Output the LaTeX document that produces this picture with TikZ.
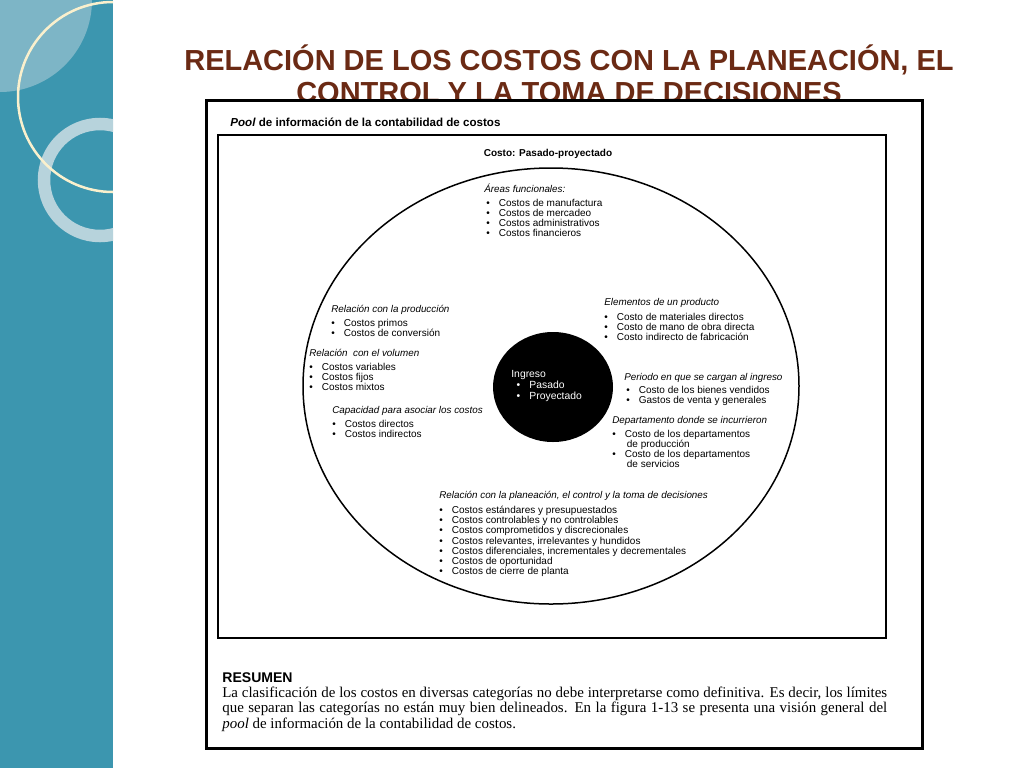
\documentclass[tikz,border=0pt]{standalone}
\usepackage{fontspec}
\setmainfont{Liberation Sans}
\newfontfamily\resfont{Liberation Serif}
\usetikzlibrary{positioning}
\definecolor{teal1}{RGB}{60,150,175}
\definecolor{teal2}{RGB}{125,181,198}
\definecolor{ring1}{RGB}{183,211,220}
\definecolor{cream}{RGB}{250,240,205}
\definecolor{titlered}{RGB}{107,42,20}
\newcommand{\bl}[1]{\textbullet\hspace{0.9em}#1\\}
\tikzset{
  head/.style={anchor=north west, inner sep=0pt, font=\fontsize{5.6}{6}\selectfont\itshape},
  items/.style={anchor=north west, inner sep=0pt, align=left, font=\fontsize{5.7}{5.75}\selectfont}
}
\begin{document}
\begin{tikzpicture}[x=0.02cm,y=-0.02cm]
  \useasboundingbox (0,0) rectangle (1024,768);
  \fill[white] (0,0) rectangle (1024,768);
  % side bar
  \begin{scope}
    \clip (0,0) rectangle (113,768);
    \fill[teal1] (0,0) rectangle (113,768);
    \fill[teal2] (0,0) circle (92);
    \draw[ring1, line width=0.25cm] (100,180) circle (56);
    \draw[cream, line width=0.05cm] (113,97) circle (95);
  \end{scope}
  % title
  \node[font=\fontsize{16.5}{18.5}\selectfont\bfseries, text=titlered, align=center] (title) at (569,74)
    {RELACIÓN DE LOS COSTOS CON LA PLANEACIÓN, EL\\ CONTROL Y LA TOMA DE DECISIONES};
  % frames
  \fill[white] (206,100) rectangle (922,748);
  \draw[line width=0.06cm] (206,100) rectangle (922,748);
  \node[anchor=west, inner sep=0pt, font=\fontsize{6.6}{7}\selectfont\bfseries] (pool) at (230,122)
    {\textit{Pool} de información de la contabilidad de costos};
  \draw[line width=0.035cm] (218,135) rectangle (886,638);
  \node[inner sep=0pt, font=\fontsize{5.7}{6}\selectfont\bfseries] (costo) at (548,154) {Costo: Pasado-proyectado};
  \draw[line width=0.03cm] (551,386) ellipse (248 and 218);
  \fill (553,387) ellipse (60 and 55);
  % texts
  \node[head] (areas) at (484,184) {Áreas funcionales:};
  \node[items] (areasI) at (486,199) {\bl{Costos de manufactura}\bl{Costos de mercadeo}\bl{Costos administrativos}\bl{Costos financieros}};
  \node[head] (prod) at (331,305) {Relación con la producción};
  \node[items] (prodI) at (331,319) {\bl{Costos primos}\bl{Costos de conversión}};
  \node[head] (vol) at (309,349) {Relación\ \ con el volumen};
  \node[items] (volI) at (309,363) {\bl{Costos variables}\bl{Costos fijos}\bl{Costos mixtos}};
  \node[head] (cap) at (332,406) {Capacidad para asociar los costos};
  \node[items] (capI) at (332,420) {\bl{Costos directos}\bl{Costos indirectos}};
  \node[head] (elem) at (604,298) {Elementos de un producto};
  \node[items] (elemI) at (604,313) {\bl{Costo de materiales directos}\bl{Costo de mano de obra directa}\bl{Costo indirecto de fabricación}};
  \node[head] (per) at (624,373) {Periodo en que se cargan al ingreso};
  \node[items] (perI) at (626,386) {\bl{Costo de los bienes vendidos}\bl{Gastos de venta y generales}};
  \node[head] (dep) at (612,416) {Departamento donde se incurrieron};
  \node[items] (depI) at (612,430) {\bl{Costo de los departamentos}\hspace{1.45em}de producción\\\bl{Costo de los departamentos}\hspace{1.45em}de servicios};
  \node[head] (plan) at (439,491) {Relación con la planeación, el control y la toma de decisiones};
  \node[items] (planI) at (439,506) {\bl{Costos estándares y presupuestados}\bl{Costos controlables y no controlables}\bl{Costos comprometidos y discrecionales}\bl{Costos relevantes, irrelevantes y hundidos}\bl{Costos diferenciales, incrementales y decrementales}\bl{Costos de oportunidad}\bl{Costos de cierre de planta}};
  \node[items, text=white, font=\fontsize{5.9}{6.2}\selectfont] (ing) at (511,370) {Ingreso\\\hspace{0.5em}\bl{Pasado}\hspace{0.5em}\bl{Proyectado}};
  % resumen
  \node[anchor=north west, inner sep=0pt, font=\fontsize{8}{8}\selectfont\bfseries] (res) at (222,672) {RESUMEN};
  \node[anchor=north west, inner sep=0pt, text width=13.3cm, align=justify, font=\resfont\fontsize{8.5}{8.6}\selectfont] (resT) at (222,687)
    {La clasificación de los costos en diversas categorías no debe interpretarse como definitiva. Es decir, los límites que separan las categorías no están muy bien delineados. En la figura 1-13 se presenta una visión general del \textit{pool} de información de la contabilidad de costos.};
\end{tikzpicture}
\end{document}
